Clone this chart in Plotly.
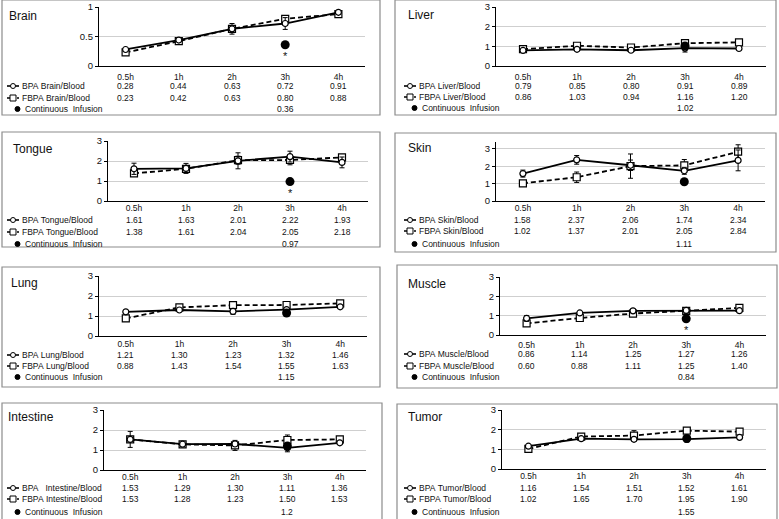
import plotly.graph_objects as go

W, H = 779, 519

categories = ["0.5h", "1h", "2h", "3h", "4h"]
organs = ["Brain", "Liver", "Tongue", "Skin", "Lung", "Muscle", "Intestine", "Tumor"]

brain_bpa = [0.28, 0.44, 0.63, 0.72, 0.91]
brain_fbpa = [0.23, 0.42, 0.63, 0.80, 0.88]
brain_ci = "0.36"
liver_bpa = [0.79, 0.85, 0.80, 0.91, 0.89]
liver_fbpa = [0.86, 1.03, 0.94, 1.16, 1.20]
liver_ci = "1.02"
tongue_bpa = [1.61, 1.63, 2.01, 2.22, 1.93]
tongue_fbpa = [1.38, 1.61, 2.04, 2.05, 2.18]
tongue_ci = "0.97"
skin_bpa = [1.58, 2.37, 2.06, 1.74, 2.34]
skin_fbpa = [1.02, 1.37, 2.01, 2.05, 2.84]
skin_ci = "1.11"
lung_bpa = [1.21, 1.30, 1.23, 1.32, 1.46]
lung_fbpa = [0.88, 1.43, 1.54, 1.55, 1.63]
lung_ci = "1.15"
muscle_bpa = [0.86, 1.14, 1.25, 1.27, 1.26]
muscle_fbpa = [0.60, 0.88, 1.11, 1.25, 1.40]
muscle_ci = "0.84"
intestine_bpa = [1.53, 1.29, 1.30, 1.11, 1.36]
intestine_fbpa = [1.53, 1.28, 1.23, 1.50, 1.53]
intestine_ci = "1.2"
tumor_bpa = [1.16, 1.54, 1.51, 1.52, 1.61]
tumor_fbpa = [1.02, 1.65, 1.70, 1.95, 1.90]
tumor_ci = "1.55"

# estimated SD error bars
brain_bpa_err = [0.02, 0.02, 0.09, 0.10, 0.02]
brain_fbpa_err = [0.02, 0.02, 0.05, 0.04, 0.02]
liver_bpa_err = [0.03, 0.03, 0.03, 0.20, 0.03]
liver_fbpa_err = [0.03, 0.05, 0.05, 0.08, 0.05]
tongue_bpa_err = [0.28, 0.25, 0.40, 0.27, 0.27]
tongue_fbpa_err = [0.10, 0.15, 0.20, 0.24, 0.10]
skin_bpa_err = [0.20, 0.25, 0.30, 0.20, 0.60]
skin_fbpa_err = [0.05, 0.30, 0.70, 0.34, 0.40]
lung_bpa_err = [0.05, 0.05, 0.15, 0.10, 0.05]
lung_fbpa_err = [0.15, 0.05, 0.05, 0.05, 0.05]
muscle_bpa_err = [0.15, 0.05, 0.10, 0.15, 0.10]
muscle_fbpa_err = [0.05, 0.05, 0.05, 0.05, 0.05]
intestine_bpa_err = [0.40, 0.05, 0.10, 0.20, 0.05]
intestine_fbpa_err = [0.10, 0.05, 0.25, 0.25, 0.05]
tumor_bpa_err = [0.05, 0.05, 0.10, 0.15, 0.05]
tumor_fbpa_err = [0.05, 0.10, 0.25, 0.05, 0.05]

significant = ["Brain", "Tongue", "Muscle"]

data = {
    "Brain": (brain_bpa, brain_fbpa, brain_ci, brain_bpa_err, brain_fbpa_err),
    "Liver": (liver_bpa, liver_fbpa, liver_ci, liver_bpa_err, liver_fbpa_err),
    "Tongue": (tongue_bpa, tongue_fbpa, tongue_ci, tongue_bpa_err, tongue_fbpa_err),
    "Skin": (skin_bpa, skin_fbpa, skin_ci, skin_bpa_err, skin_fbpa_err),
    "Lung": (lung_bpa, lung_fbpa, lung_ci, lung_bpa_err, lung_fbpa_err),
    "Muscle": (muscle_bpa, muscle_fbpa, muscle_ci, muscle_bpa_err, muscle_fbpa_err),
    "Intestine": (intestine_bpa, intestine_fbpa, intestine_ci, intestine_bpa_err, intestine_fbpa_err),
    "Tumor": (tumor_bpa, tumor_fbpa, tumor_ci, tumor_bpa_err, tumor_fbpa_err),
}

# layout geometry in pixels
geom = {
    "Brain":     dict(x0=99, x1=365, yt=7, yb=66, ymax=1, dt=0.5, so=3, rows=[86, 98, 109], box=(2, 0, 380, 115), title=(7, 16), col=0),
    "Liver":     dict(x0=496, x1=766, yt=7, yb=66, ymax=3, dt=1, so=3, rows=[86, 97, 108], box=(395, 0, 776, 115), title=(406, 15), col=1),
    "Tongue":    dict(x0=108, x1=368, yt=141, yb=201, ymax=3, dt=1, so=-1, rows=[220, 232, 244], box=(2, 132, 380, 247), title=(11, 149), col=0),
    "Skin":      dict(x0=496, x1=765, yt=142, yb=201, ymax=3.4, dt=1, so=-1, rows=[220, 231, 244], box=(395, 133, 776, 252), title=(406, 148), col=1),
    "Lung":      dict(x0=99, x1=367, yt=276, yb=336, ymax=3, dt=1, so=0, rows=[355, 366, 377], box=(2, 267, 380, 387), title=(9, 283), col=0),
    "Muscle":    dict(x0=500, x1=766, yt=277, yb=335, ymax=3, dt=1, so=2, rows=[354, 366, 377], box=(397, 265, 777, 388), title=(406, 284), col=1),
    "Intestine": dict(x0=104, x1=366, yt=410, yb=470, ymax=3, dt=1, so=-1, rows=[488, 499, 512], box=(2, 403, 382, 530), title=(6, 417), col=0),
    "Tumor":     dict(x0=502, x1=766, yt=410, yb=469, ymax=3, dt=1, so=-1, rows=[488, 499, 512], box=(397, 404, 777, 530), title=(406, 417), col=1),
}

def px(x):
    return x / W

def py(y):
    return 1 - y / H

FONT = "Liberation Sans, Arial, sans-serif"
fig = go.Figure()
shapes = []
annotations = []

def note(text, x, y, xref="paper", yref="paper", xanchor="center", size=8.5, **kw):
    annotations.append(dict(text=text, x=x, y=y, xref=xref, yref=yref, xanchor=xanchor,
                            yanchor="middle", showarrow=False,
                            font=dict(family=FONT, size=size, color="#111"), **kw))

for i, organ in enumerate(organs):
    n = i + 1
    xa = "x" if n == 1 else f"x{n}"
    ya = "y" if n == 1 else f"y{n}"
    g = geom[organ]
    bpa, fbpa, ci, bpa_err, fbpa_err = data[organ]

    fig.add_trace(go.Scatter(
        x=categories, y=fbpa, xaxis=xa, yaxis=ya, mode="lines+markers",
        line=dict(color="black", width=1.8, dash="5px,3px"),
        marker=dict(symbol="square", size=7, color="white", line=dict(color="black", width=1.2)),
        error_y=dict(type="data", array=fbpa_err, color="black", thickness=1, width=2.5),
        showlegend=False, hoverinfo="y"))
    fig.add_trace(go.Scatter(
        x=categories, y=bpa, xaxis=xa, yaxis=ya, mode="lines+markers",
        line=dict(color="black", width=1.8),
        marker=dict(symbol="circle", size=6, color="white", line=dict(color="black", width=1.2)),
        error_y=dict(type="data", array=bpa_err, color="black", thickness=1, width=2.5),
        showlegend=False, hoverinfo="y"))
    fig.add_trace(go.Scatter(
        x=[categories[3]], y=[float(ci)], xaxis=xa, yaxis=ya, mode="markers",
        marker=dict(symbol="circle", size=9, color="black"),
        showlegend=False, hoverinfo="y"))

    fig.layout[("xaxis" if n == 1 else f"xaxis{n}")] = dict(
        domain=[px(g["x0"]), px(g["x1"])], anchor=ya, type="category",
        range=[-0.5, 4.5], showline=True, linecolor="black", linewidth=1.3,
        showgrid=False, ticks="", tickfont=dict(family=FONT, size=8.5, color="#111"),
        ticklabelstandoff=g["so"], automargin=False, fixedrange=True)
    fig.layout[("yaxis" if n == 1 else f"yaxis{n}")] = dict(
        domain=[py(g["yb"]), py(g["yt"])], anchor=xa, range=[0, g["ymax"]],
        dtick=g["dt"], tick0=0, showline=True, linecolor="black", linewidth=1.3,
        showgrid=True, gridcolor="#cfcfcf", gridwidth=1, zeroline=False,
        ticks="outside", ticklen=3, tickcolor="black", automargin=False,
        tickfont=dict(family=FONT, size=9.5, color="#111"), fixedrange=True)

    # frame
    bx0, by0, bx1, by1 = g["box"]
    shapes.append(dict(type="rect", xref="paper", yref="paper",
                       x0=px(bx0), x1=px(bx1), y0=py(by1), y1=py(by0),
                       line=dict(color="#8c8c8c", width=1.2), fillcolor="rgba(0,0,0,0)", layer="below"))
    # title
    tx, ty = g["title"]
    note(organ, px(tx), py(ty), xanchor="left", size=12)
    # asterisk
    if organ in significant:
        note("*", categories[3], float(ci), xref=xa, yref=ya, size=11, yshift=-11)
    # table values
    r1, r2, r3 = g["rows"]
    for j, cat in enumerate(categories):
        note(f"{bpa[j]:.2f}", cat, py(r1), xref=xa)
        note(f"{fbpa[j]:.2f}", cat, py(r2), xref=xa)
    note(ci, categories[3], py(r3), xref=xa)
    # row labels with legend symbols
    lx = 7 if g["col"] == 0 else 404
    sep = "\u00a0\u00a0\u00a0" if organ == "Intestine" else "\u00a0"
    labels = [("BPA" + sep + organ + "/Blood", r1, 13),
              ("FBPA\u00a0" + organ + "/Blood", r2, 13),
              ("Continuous\u00a0\u00a0Infusion", r3, 16)]
    for txt, ry, off in labels:
        note(txt, px(lx + off), py(ry), xanchor="left")
    # symbols
    shapes.append(dict(type="line", xref="paper", yref="paper", x0=px(lx), x1=px(lx + 12),
                       y0=py(r1), y1=py(r1), line=dict(color="black", width=1.6)))
    shapes.append(dict(type="circle", xref="paper", yref="paper", x0=px(lx + 3.5), x1=px(lx + 8.5),
                       y0=py(r1 + 2.5), y1=py(r1 - 2.5), line=dict(color="black", width=1), fillcolor="white"))
    shapes.append(dict(type="line", xref="paper", yref="paper", x0=px(lx), x1=px(lx + 12),
                       y0=py(r2), y1=py(r2), line=dict(color="black", width=1.6, dash="3px,2px")))
    shapes.append(dict(type="rect", xref="paper", yref="paper", x0=px(lx + 3), x1=px(lx + 9),
                       y0=py(r2 + 3), y1=py(r2 - 3), line=dict(color="black", width=1), fillcolor="white"))
    shapes.append(dict(type="circle", xref="paper", yref="paper", x0=px(lx + 8), x1=px(lx + 13),
                       y0=py(r3 + 2.5), y1=py(r3 - 2.5), line=dict(color="black", width=1), fillcolor="black"))

fig.update_layout(width=W, height=H, margin=dict(l=0, r=0, t=0, b=0, pad=0, autoexpand=False),
                  paper_bgcolor="white", plot_bgcolor="white", template="none",
                  shapes=shapes, annotations=annotations, showlegend=False,
                  font=dict(family=FONT))
fig.write_html(
    "out.html", config={"displayModeBar": False},
    post_script=("document.body.style.margin='0';document.body.style.overflow='hidden';"
                 "var d=document.getElementById('{plot_id}');d.style.position='absolute';"
                 "d.style.top='0px';d.style.left='0px';"))
